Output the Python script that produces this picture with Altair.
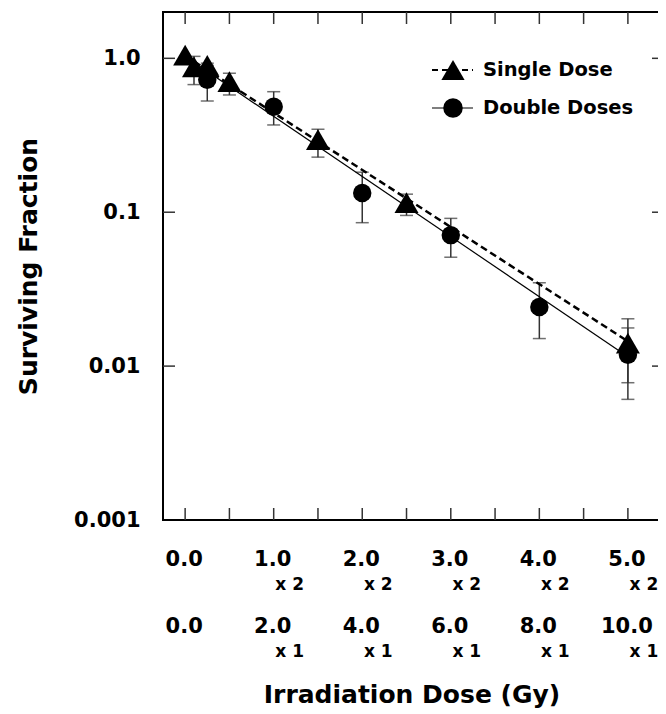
import altair as alt
import pandas as pd

# ---------------- data ----------------
single_dose = [0.0, 0.1, 0.25, 0.5, 1.5, 2.5, 5.0]
single_sf = [1.05, 0.88, 0.90, 0.705, 0.296, 0.1156, 0.0141]
single_lo = [None, 0.675, 0.82, 0.578, 0.228, 0.0953, 0.0078]
single_hi = [None, 1.03, 0.93, 0.80, 0.346, 0.131, 0.0203]

double_dose = [0.25, 1.0, 2.0, 3.0, 4.0, 5.0]
double_sf = [0.726, 0.485, 0.1335, 0.0710, 0.0242, 0.01184]
double_lo = [0.528, 0.369, 0.0855, 0.0510, 0.0151, 0.00608]
double_hi = [0.90, 0.607, 0.182, 0.0912, 0.0348, 0.0177]

fit_dose = [0.0, 5.0]
single_fit = [1.04, 0.0145]
double_fit = [1.03, 0.0115]

x_label_pos = [0, 1, 2, 3, 4, 5]
x_labels_top = ["0.0", "1.0", "2.0", "3.0", "4.0", "5.0"]
x_labels_bottom = ["0.0", "2.0", "4.0", "6.0", "8.0", "10.0"]
sub_pos = [1, 2, 3, 4, 5]
sub_top = "x 2"
sub_bottom = "x 1"
x_tick_values = [0.0, 0.5, 1.0, 1.5, 2.0, 2.5, 3.0, 3.5, 4.0, 4.5, 5.0]
y_tick_values = [1.0, 0.1, 0.01, 0.001]
y_tick_labels = ["1.0", "0.1", "0.01", "0.001"]
y_title = "Surviving Fraction"
x_title = "Irradiation Dose (Gy)"
legend_labels = ["Single Dose", "Double Doses"]

# ---------------- styling ----------------
FONT = "DejaVu Sans"
W, H = 495, 508
TICK = "#333333"
xs = alt.Scale(domain=[-0.25, 5.34], nice=False, zero=False)
ys = alt.Scale(type="log", domain=[0.001, 2.0], nice=False)

expr = ""
for v, l in zip(y_tick_values, y_tick_labels):
    expr += f"abs(datum.value - {v}) < {v/100} ? '{l}' : "
expr += "''"

y_axis = alt.Axis(
    values=y_tick_values, labelExpr=expr, ticks=False, tickSize=0, domain=False, grid=False,
    labelFont=FONT, labelFontSize=21, labelFontWeight="bold", labelColor="black",
    labelPadding=23, labelBaseline="middle", labelOverlap=False,
    title=y_title, titleFont=FONT, titleFontSize=25, titleFontWeight="bold",
    titleColor="black", titleX=-135, titleY=H / 2, titleAngle=270,
    titleAlign="center", titleBaseline="middle",
)

def X(field):
    return alt.X(field, type="quantitative", scale=xs, axis=None)

def Y(field):
    return alt.Y(field, type="quantitative", scale=ys, axis=y_axis)

one = alt.Data(values=[{}])

s_df = pd.DataFrame({"d": single_dose, "v": single_sf, "lo": single_lo, "hi": single_hi})
d_df = pd.DataFrame({"d": double_dose, "v": double_sf, "lo": double_lo, "hi": double_hi})
s_err = s_df.dropna()
fit_df = pd.DataFrame({"d": fit_dose, "s": single_fit, "dd": double_fit})

layers = []

# error bars
for df in (s_err, d_df):
    layers.append(alt.Chart(df).mark_rule(color=TICK, strokeWidth=1.5).encode(
        x=X("d"), y=Y("lo"), y2="hi"))
    for f in ("lo", "hi"):
        layers.append(alt.Chart(df).mark_tick(color=TICK, orient="horizontal", size=13, thickness=1.5).encode(
            x=X("d"), y=Y(f)))

# fit lines
layers.append(alt.Chart(fit_df).mark_line(color="black", strokeWidth=2.5, strokeDash=[7, 4]).encode(
    x=X("d"), y=Y("s")))
layers.append(alt.Chart(fit_df).mark_line(color="black", strokeWidth=1.2).encode(
    x=X("d"), y=Y("dd")))

# markers
layers.append(alt.Chart(s_df).mark_point(shape="triangle-up", filled=True, size=576, color="black", opacity=1).encode(
    x=X("d"), y=Y("v")))
layers.append(alt.Chart(d_df).mark_point(shape="circle", filled=True, size=340, color="black", opacity=1).encode(
    x=X("d"), y=Y("v")))

# frame lines
layers.append(alt.Chart(one).mark_rule(color="black", strokeWidth=2, strokeCap="square").encode(
    x=alt.value(0), y=alt.value(0), y2=alt.value(H)))
layers.append(alt.Chart(one).mark_rule(color="black", strokeWidth=2, strokeCap="square").encode(
    y=alt.value(0), x=alt.value(0), x2=alt.value(W + 10)))
layers.append(alt.Chart(one).mark_rule(color="black", strokeWidth=2, strokeCap="square").encode(
    y=alt.value(H), x=alt.value(0), x2=alt.value(W + 10)))

# inward ticks
yt = pd.DataFrame({"v": y_tick_values[:3]})
layers.append(alt.Chart(yt).mark_rule(color=TICK, strokeWidth=1.5).encode(
    y=Y("v"), x=alt.value(0), x2=alt.value(12)))
layers.append(alt.Chart(yt).mark_rule(color=TICK, strokeWidth=1.5).encode(
    y=Y("v"), x=alt.value(W - 6), x2=alt.value(W + 6)))
xt = pd.DataFrame({"d": x_tick_values})
layers.append(alt.Chart(xt).mark_rule(color=TICK, strokeWidth=1.5).encode(
    x=X("d"), y=alt.value(0), y2=alt.value(12)))
layers.append(alt.Chart(xt).mark_rule(color=TICK, strokeWidth=1.5).encode(
    x=X("d"), y=alt.value(H - 12), y2=alt.value(H)))

# x labels (two rows)
xl = pd.DataFrame({"d": x_label_pos, "top": x_labels_top, "bot": x_labels_bottom})
sl = pd.DataFrame({"d": sub_pos, "a": [sub_top] * len(sub_pos), "b": [sub_bottom] * len(sub_pos)})
txt = dict(font=FONT, fontWeight="bold", color="black")
layers.append(alt.Chart(xl).mark_text(fontSize=21, align="center", baseline="middle", dx=-1, **txt).encode(
    x=X("d"), y=alt.value(548), text="top:N"))
layers.append(alt.Chart(xl).mark_text(fontSize=21, align="center", baseline="middle", dx=-1, **txt).encode(
    x=X("d"), y=alt.value(615), text="bot:N"))
layers.append(alt.Chart(sl).mark_text(fontSize=17, align="center", baseline="middle", dx=16, **txt).encode(
    x=X("d"), y=alt.value(573), text="a:N"))
layers.append(alt.Chart(sl).mark_text(fontSize=17, align="center", baseline="middle", dx=16, **txt).encode(
    x=X("d"), y=alt.value(640), text="b:N"))
layers.append(alt.Chart(pd.DataFrame({"t": [x_title]})).mark_text(fontSize=25, align="center", baseline="alphabetic", **txt).encode(
    x=alt.value(249), y=alt.value(691), text="t:N"))

# legend
layers.append(alt.Chart(one).mark_rule(color="black", strokeWidth=2, strokeDash=[6, 4]).encode(
    x=alt.value(269), x2=alt.value(310), y=alt.value(58)))
layers.append(alt.Chart(one).mark_rule(color="black", strokeWidth=1.2).encode(
    x=alt.value(269), x2=alt.value(310), y=alt.value(96)))
layers.append(alt.Chart(one).mark_point(shape="triangle-up", filled=True, size=540, color="black", opacity=1).encode(
    x=alt.value(290), y=alt.value(58)))
layers.append(alt.Chart(one).mark_point(shape="circle", filled=True, size=380, color="black", opacity=1).encode(
    x=alt.value(290), y=alt.value(96)))
for lab, yy in zip(legend_labels, (58, 96)):
    layers.append(alt.Chart(pd.DataFrame({"t": [lab]})).mark_text(fontSize=19.5, align="left", baseline="middle", **txt).encode(
        x=alt.value(320), y=alt.value(yy), text="t:N"))

chart = alt.layer(*layers).properties(
    width=W, height=H,
    padding={"left": 155, "top": 4, "right": 0, "bottom": 194},
    autosize=alt.AutoSizeParams(type="none"),
).configure_view(stroke=None)

chart.save("out.html", embed_options={"renderer": "svg", "actions": False})
